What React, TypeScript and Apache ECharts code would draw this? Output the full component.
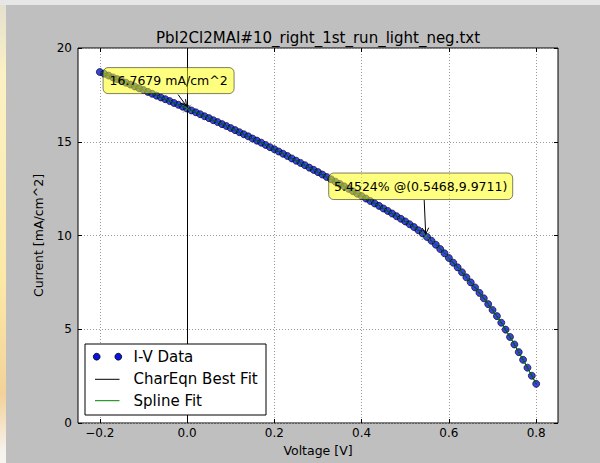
import React, { useEffect, useRef } from 'react';
import * as echarts from 'echarts';

// ---- data ----
const voltage = [
  -0.2, -0.19, -0.18, -0.17, -0.16, -0.15, -0.14, -0.13, -0.12, -0.11,
  -0.1, -0.09, -0.08, -0.07, -0.06, -0.05, -0.04, -0.03, -0.02, -0.01,
  0.0, 0.01, 0.02, 0.03, 0.04, 0.05, 0.06, 0.07, 0.08, 0.09,
  0.1, 0.11, 0.12, 0.13, 0.14, 0.15, 0.16, 0.17, 0.18, 0.19,
  0.2, 0.21, 0.22, 0.23, 0.24, 0.25, 0.26, 0.27, 0.28, 0.29,
  0.3, 0.31, 0.32, 0.33, 0.34, 0.35, 0.36, 0.37, 0.38, 0.39,
  0.4, 0.41, 0.42, 0.43, 0.44, 0.45, 0.46, 0.47, 0.48, 0.49,
  0.5, 0.51, 0.52, 0.53, 0.54, 0.55, 0.56, 0.57, 0.58, 0.59,
  0.6, 0.61, 0.62, 0.63, 0.64, 0.65, 0.66, 0.67, 0.68, 0.69,
  0.7, 0.71, 0.72, 0.73, 0.74, 0.75, 0.76, 0.77, 0.78, 0.79,
  0.8,
];
const current = [
  18.72, 18.63, 18.53, 18.43, 18.34, 18.24, 18.15, 18.05, 17.95, 17.85,
  17.76, 17.66, 17.56, 17.46, 17.36, 17.27, 17.17, 17.07, 16.97, 16.87,
  16.77, 16.67, 16.57, 16.47, 16.36, 16.26, 16.15, 16.05, 15.94, 15.84,
  15.73, 15.62, 15.51, 15.4, 15.29, 15.17, 15.06, 14.95, 14.83, 14.71,
  14.6, 14.48, 14.36, 14.24, 14.11, 13.99, 13.87, 13.75, 13.62, 13.5,
  13.38, 13.25, 13.12, 13.0, 12.87, 12.75, 12.62, 12.49, 12.36, 12.23,
  12.1, 11.97, 11.84, 11.71, 11.58, 11.44, 11.31, 11.17, 11.03, 10.89,
  10.75, 10.6, 10.45, 10.28, 10.11, 9.92, 9.72, 9.51, 9.28, 9.05,
  8.8, 8.55, 8.3, 8.04, 7.77, 7.5, 7.23, 6.94, 6.65, 6.34,
  6.03, 5.7, 5.35, 4.98, 4.59, 4.19, 3.78, 3.37, 2.95, 2.52,
  2.09,
];
const xTickValues = [-0.2, 0.0, 0.2, 0.4, 0.6, 0.8];
const xTickLabels = ['\u22120.2', '0.0', '0.2', '0.4', '0.6', '0.8'];
const yTickValues = [0, 5, 10, 15, 20];
const yTickLabels = ['0', '5', '10', '15', '20'];
const jscPoint = [0.0, 16.7679];
const mppPoint = [0.5468, 9.9711];
const jscLabel = '16.7679 mA/cm^2';
const mppLabel = '5.4524% @(0.5468,9.9711)';
const seriesNames = ['I-V Data', 'CharEqn Best Fit', 'Spline Fit'];
const chartTitle = 'PbI2Cl2MAI#10_right_1st_run_light_neg.txt';
const xName = 'Voltage [V]';
const yName = 'Current [mA/cm^2]';

const FONT = 'DejaVu Sans';

function arrow(sx: number, sy: number, tx: number, ty: number, z: number) {
  const dx = tx - sx;
  const dy = ty - sy;
  const len = Math.sqrt(dx * dx + dy * dy) || 1;
  const ux = dx / len;
  const uy = dy / len;
  const a = (28 * Math.PI) / 180;
  const L = 7;
  const rot = (ang: number) => [
    tx - L * (ux * Math.cos(ang) - uy * Math.sin(ang)),
    ty - L * (ux * Math.sin(ang) + uy * Math.cos(ang)),
  ];
  const h1 = rot(a);
  const h2 = rot(-a);
  return [
    {
      type: 'line',
      z,
      shape: { x1: sx, y1: sy, x2: tx, y2: ty },
      style: { stroke: '#000', lineWidth: 1 },
      silent: true,
    },
    {
      type: 'polyline',
      z,
      shape: { points: [h1, [tx, ty], h2] },
      style: { stroke: '#000', lineWidth: 1, fill: null },
      silent: true,
    },
  ];
}

function textEl(text: string, x: number, y: number, size: number, align: string, vAlign: string, z: number, extra: any = {}) {
  return {
    type: 'text',
    z,
    x,
    y,
    silent: true,
    style: {
      text,
      fill: '#000',
      fontSize: size,
      fontFamily: FONT,
      align,
      verticalAlign: vAlign,
      textAlign: align,
      textVerticalAlign: vAlign,
    },
    ...extra,
  };
}

export default function App() {
  const ref = useRef<HTMLDivElement>(null);

  useEffect(() => {
    if (!ref.current) return;
    const chart = echarts.init(ref.current, undefined, { renderer: 'svg' });
    const pairs = voltage.map((v, i) => [v, current[i]]);
    const xFmt = (v: number) => {
      const i = xTickValues.findIndex((t) => Math.abs(t - v) < 1e-9);
      return i >= 0 ? xTickLabels[i] : '';
    };
    const yFmt = (v: number) => {
      const i = yTickValues.findIndex((t) => Math.abs(t - v) < 1e-9);
      return i >= 0 ? yTickLabels[i] : '';
    };
    const gridLine = { show: true, lineStyle: { color: '#9a9a9a', type: [1, 2], width: 1 } };
    const labelStyle = { color: '#000', fontSize: 12, fontFamily: FONT };
    const nameStyle = { color: '#000', fontSize: 12.5, fontFamily: FONT };

    chart.setOption({
      animation: false,
      backgroundColor: '#bfbfbf',
      grid: {
        left: 78,
        top: 48,
        width: 480,
        height: 375,
        show: true,
        backgroundColor: '#ffffff',
        borderColor: '#000',
        borderWidth: 1,
        containLabel: false,
      },
      xAxis: [
        {
          type: 'value',
          min: -0.25,
          max: 0.85,
          position: 'bottom',
          axisLine: { show: false, onZero: false },
          axisTick: { show: true, inside: true, length: 4, customValues: xTickValues, lineStyle: { color: '#000' } },
          axisLabel: { show: true, customValues: xTickValues, formatter: xFmt, margin: 4, ...labelStyle },
          splitLine: gridLine,
          name: xName,
          nameLocation: 'middle',
          nameGap: 20,
          nameTextStyle: nameStyle,
        },
        {
          type: 'value',
          min: -0.25,
          max: 0.85,
          position: 'top',
          axisLine: { show: false, onZero: false },
          axisTick: { show: true, inside: true, length: 4, customValues: xTickValues, lineStyle: { color: '#000' } },
          axisLabel: { show: false },
          splitLine: { show: false },
        },
      ],
      yAxis: [
        {
          type: 'value',
          min: 0,
          max: 20,
          interval: 5,
          position: 'left',
          axisLine: { show: false, onZero: false },
          axisTick: { show: true, inside: true, length: 4, lineStyle: { color: '#000' } },
          axisLabel: { show: true, formatter: yFmt, margin: 6, ...labelStyle },
          splitLine: gridLine,
          name: yName,
          nameLocation: 'middle',
          nameGap: 33,
          nameTextStyle: nameStyle,
        },
        {
          type: 'value',
          min: 0,
          max: 20,
          interval: 5,
          position: 'right',
          axisLine: { show: false, onZero: false },
          axisTick: { show: true, inside: true, length: 4, lineStyle: { color: '#000' } },
          axisLabel: { show: false },
          splitLine: { show: false },
        },
      ],
      series: [
        {
          name: seriesNames[0],
          type: 'scatter',
          data: pairs,
          symbol: 'circle',
          symbolSize: 7,
          itemStyle: { color: '#0a14e0', borderColor: '#000', borderWidth: 0.8 },
          z: 2,
          silent: true,
        },
        {
          name: seriesNames[1],
          type: 'line',
          data: pairs,
          showSymbol: false,
          symbol: 'none',
          lineStyle: { color: '#000', width: 1 },
          z: 3,
          silent: true,
          markLine: {
            silent: true,
            symbol: ['none', 'none'],
            label: { show: false },
            lineStyle: { color: '#000', width: 1, type: 'solid' },
            data: [{ xAxis: 0 }],
          },
        },
        {
          name: seriesNames[2],
          type: 'line',
          data: pairs,
          showSymbol: false,
          symbol: 'none',
          lineStyle: { color: '#008000', width: 1 },
          z: 4,
          silent: true,
        },
        {
          name: 'markers',
          type: 'scatter',
          data: [jscPoint, mppPoint],
          symbol: 'path://M0,0L10,10M10,0L0,10',
          symbolSize: 8,
          itemStyle: { color: 'none', borderColor: '#3f8a55', borderWidth: 1 },
          z: 5,
          silent: true,
        },
      ],
    });

    const p1 = chart.convertToPixel({ seriesIndex: 0 }, jscPoint) as number[];
    const p2 = chart.convertToPixel({ seriesIndex: 0 }, mppPoint) as number[];
    const Z = 100;

    const graphics: any[] = [];
    graphics.push({
      type: 'rect',
      z: -10,
      silent: true,
      shape: { x: 0, y: 0, width: 600, height: 5 },
      style: { fill: '#e6e6e6' },
    });
    graphics.push({
      type: 'rect',
      z: -10,
      silent: true,
      shape: { x: 0, y: 5, width: 6, height: 458 },
      style: {
        fill: new echarts.graphic.LinearGradient(0, 0, 0, 1, [
          { offset: 0, color: '#e4e0cf' },
          { offset: 0.15, color: '#fbf1c4' },
          { offset: 0.6, color: '#fce9a6' },
          { offset: 0.85, color: '#f3d29a' },
          { offset: 0.97, color: '#f6f1ea' },
          { offset: 1, color: '#f6f4f0' },
        ]),
      },
    });
    graphics.push(textEl(chartTitle, 318, 38, 15, 'center', 'middle', Z));

    // annotation 1 (Jsc)
    graphics.push({
      type: 'rect',
      z: Z,
      silent: true,
      shape: { x: p1[0] - 84, y: p1[1] - 41, width: 131, height: 26, r: 5 },
      style: { fill: 'rgba(255,255,0,0.5)', stroke: 'rgba(0,0,0,0.5)', lineWidth: 1 },
    });
    graphics.push(textEl(jscLabel, p1[0] - 84 + 65.5, p1[1] - 41 + 13, 12.5, 'center', 'middle', Z + 1));
    graphics.push(...arrow(p1[0] - 9, p1[1] - 14, p1[0] - 0.5, p1[1] - 2.5, Z));

    // annotation 2 (MPP)
    graphics.push({
      type: 'rect',
      z: Z,
      silent: true,
      shape: { x: p2[0] - 97, y: p2[1] - 63, width: 184, height: 26.5, r: 5 },
      style: { fill: 'rgba(255,255,0,0.5)', stroke: 'rgba(0,0,0,0.5)', lineWidth: 1 },
    });
    graphics.push(textEl(mppLabel, p2[0] - 97 + 92, p2[1] - 63 + 13.25, 12.5, 'center', 'middle', Z + 1));
    graphics.push(...arrow(p2[0] - 1.5, p2[1] - 36, p2[0], p2[1] - 2, Z));

    // legend
    const lx = 85;
    const ly = 344;
    graphics.push({
      type: 'rect',
      z: Z,
      silent: true,
      shape: { x: lx, y: ly, width: 181, height: 71 },
      style: { fill: '#ffffff', stroke: '#000', lineWidth: 1 },
    });
    const rows = [356.7, 379.3, 400.7];
    [96.7, 118.3].forEach((cx) => {
      graphics.push({
        type: 'circle',
        z: Z + 1,
        silent: true,
        shape: { cx, cy: rows[0], r: 3.4 },
        style: { fill: '#0a14e0', stroke: '#000', lineWidth: 0.8 },
      });
    });
    graphics.push({
      type: 'line',
      z: Z + 1,
      silent: true,
      shape: { x1: 95, y1: rows[1], x2: 119.5, y2: rows[1] },
      style: { stroke: '#000', lineWidth: 1 },
    });
    graphics.push({
      type: 'line',
      z: Z + 1,
      silent: true,
      shape: { x1: 95, y1: rows[2], x2: 119.5, y2: rows[2] },
      style: { stroke: '#008000', lineWidth: 1 },
    });
    seriesNames.forEach((n, i) => {
      graphics.push(textEl(n, 133.5, rows[i], 15, 'left', 'middle', Z + 1));
    });

    chart.setOption({ graphic: { elements: graphics } });

    return () => {
      chart.dispose();
    };
  }, []);

  return (
    <div
      ref={ref}
      style={{ position: 'absolute', left: 0, top: 0, width: 600, height: 463 }}
    />
  );
}
